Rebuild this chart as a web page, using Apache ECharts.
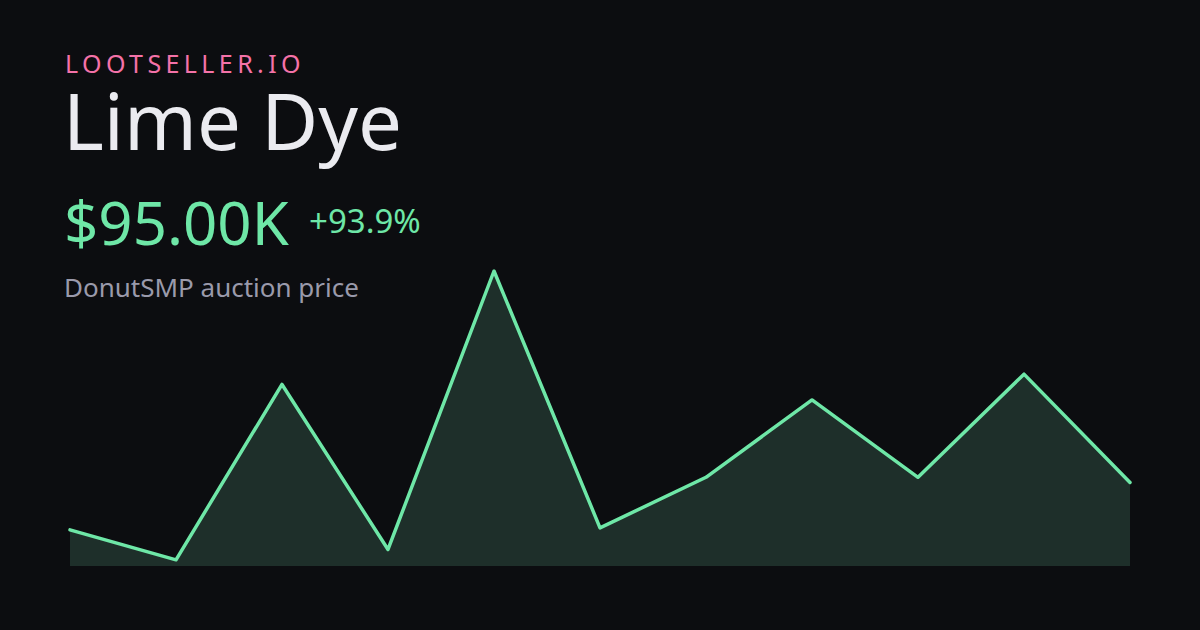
<!DOCTYPE html>
<html>
<head>
<meta charset="utf-8">
<script src="https://cdn.jsdelivr.net/npm/echarts@6/dist/echarts.min.js"></script>
<style>
html,body{margin:0;padding:0;background:#0c0d10;}
#chart{width:1200px;height:630px;}
</style>
</head>
<body>
<div id="chart"></div>
<script>
// Data (prices in K)
const categories = ['1','2','3','4','5','6','7','8','9','10','11'];
const prices = [49, 20, 190, 30, 300, 51, 100, 175, 100, 200, 95];
const brand = 'LOOTSELLER.IO';
const itemName = 'Lime Dye';
const priceLabel = '$95.00K';
const changeLabel = '+93.9%';
const subtitle = 'DonutSMP auction price';

const chart = echarts.init(document.getElementById('chart'), null, {renderer: 'svg', width: 1200, height: 630});
const font = '"Noto Sans", "Open Sans", sans-serif';
chart.setOption({
  backgroundColor: '#0c0d10',
  animation: false,
  grid: {left: 70, right: 70, top: 271, bottom: 64},
  xAxis: {type: 'category', data: categories, boundaryGap: false, show: false},
  yAxis: {type: 'value', min: 14, max: 300, show: false},
  series: [{
    type: 'line',
    data: prices,
    symbol: 'none',
    lineStyle: {color: '#6ee7a7', width: 3.5, join: 'round', cap: 'round'},
    areaStyle: {color: '#1e2f2a', opacity: 1}
  }],
  graphic: [
    {type: 'text', left: 65, top: 50, style: {text: brand, fill: '#f472a8', font: '400 25px ' + font}},
    {type: 'text', left: 63, top: 81, style: {text: itemName, fill: '#ebebf0', font: '400 78px ' + font}},
    {type: 'text', left: 64, top: 192, style: {text: priceLabel, fill: '#6ee7a7', font: '400 60px ' + font}},
    {type: 'text', left: 309, top: 204, style: {text: changeLabel, fill: '#6ee7a7', font: '400 33px ' + font}},
    {type: 'text', left: 64, top: 274, style: {text: subtitle, fill: '#9a9aab', font: '400 26px ' + font}}
  ]
});
// letter-spacing for brand text
document.querySelectorAll('#chart text').forEach(t => {
  if (t.textContent === brand) t.setAttribute('letter-spacing', '4.4px');
});
</script>
</body>
</html>
